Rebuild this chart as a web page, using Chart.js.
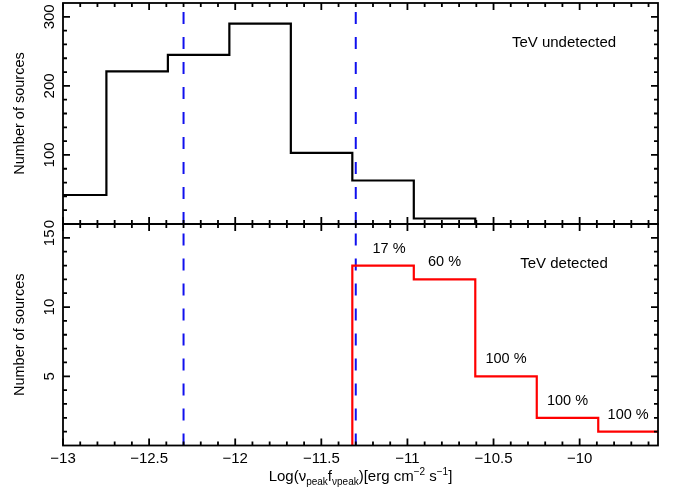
<!DOCTYPE html>
<html>
<head>
<meta charset="utf-8">
<script src="https://cdn.jsdelivr.net/npm/chart.js@4.4.0/dist/chart.umd.min.js"></script>
<style>
  html, body { margin: 0; padding: 0; background: #fff; }
  #wrap { position: relative; width: 680px; height: 490px; }
  canvas { position: absolute; left: 0; top: 0; }
</style>
</head>
<body>
<div id="wrap">
  <canvas id="topChart" width="680" height="490"></canvas>
  <canvas id="botChart" width="680" height="490"></canvas>
</div>
<script>
// Bin edges of Log(nu_peak f_nupeak), shared by both panels
const binEdges = [-13, -12.748, -12.391, -12.034, -11.677, -11.32, -10.963, -10.606, -10.249, -9.892, -9.545];
const undetectedCounts = [42, 221, 245, 290, 103, 63, 8, 0, 0, 0];
const detectedCounts = [0, 0, 0, 0, 0, 13, 12, 5, 2, 1];
const detectedPct = ['', '', '', '', '', '17 %', '60 %', '100 %', '100 %', '100 %'];
const dividers = [-12.3, -11.3];
const xTicks = [-13, -12.5, -12, -11.5, -11, -10.5, -10];
const topYTicks = [0, 100, 200, 300];
const botYTicks = [5, 10, 15];

const FONT = '"Liberation Sans", Arial, Helvetica, sans-serif';
const X_MIN = -13, X_MAX = -9.545;

// histogram outline as step points (left edge of each bin + closing point)
function stepPoints(counts, skipEmpty) {
  const pts = [];
  let started = !skipEmpty;
  counts.forEach((c, i) => {
    if (!started) {
      if (c === 0) return;
      started = true;
      pts.push({ x: binEdges[i], y: 0 });
    }
    pts.push({ x: binEdges[i], y: c });
  });
  pts.push({ x: binEdges[binEdges.length - 1], y: counts[counts.length - 1] });
  return pts;
}

function dividerSets(yMax) {
  return dividers.map(d => ({
    data: [{ x: d, y: 0 }, { x: d, y: yMax }],
    borderColor: '#1010ee',
    borderWidth: 2,
    borderDash: [12, 13],
    pointRadius: 0
  }));
}

const minus = v => String(v).replace('-', '\u2212');

// frame, inward ticks and labels
const framePlugin = {
  id: 'frame',
  afterDraw(chart, args, o) {
    const { ctx, chartArea: a, scales } = chart;
    const xs = scales.x, ys = scales.y;
    ctx.save();
    ctx.strokeStyle = '#000';
    ctx.fillStyle = '#000';
    ctx.lineWidth = 1.8;
    ctx.strokeRect(a.left, a.top, a.right - a.left, a.bottom - a.top);

    ctx.beginPath();
    for (let k = -130; k <= -96; k++) {
      const px = xs.getPixelForValue(k / 10);
      const len = k % 5 === 0 ? 7 : 4;
      ctx.moveTo(px, a.bottom); ctx.lineTo(px, a.bottom - len);
      ctx.moveTo(px, a.top); ctx.lineTo(px, a.top + len);
    }
    for (let v = o.yMinor; v < ys.max; v += o.yMinor) {
      const py = ys.getPixelForValue(v);
      const len = v % o.yMajor === 0 ? 7 : 4;
      ctx.moveTo(a.left, py); ctx.lineTo(a.left + len, py);
      ctx.moveTo(a.right, py); ctx.lineTo(a.right - len, py);
    }
    ctx.stroke();

    // y tick labels, rotated
    ctx.font = '15px ' + FONT;
    ctx.textAlign = 'center';
    ctx.textBaseline = 'middle';
    o.yLabels.forEach(v => {
      ctx.save();
      ctx.translate(50, ys.getPixelForValue(v));
      ctx.rotate(-Math.PI / 2);
      ctx.fillText(String(v), 0, 0);
      ctx.restore();
    });

    // y title
    ctx.font = '14.5px ' + FONT;
    ctx.save();
    ctx.translate(20, (a.top + a.bottom) / 2);
    ctx.rotate(-Math.PI / 2);
    ctx.fillText('Number of sources', 0, 0);
    ctx.restore();

    // panel label
    ctx.font = '15px ' + FONT;
    ctx.fillText(o.panelText, a.right - 94, a.top + 40);

    if (o.pct) {
      ctx.font = '14.5px ' + FONT;
      o.pct.forEach((t, i) => {
        if (!t) return;
        const cx = xs.getPixelForValue((binEdges[i] + binEdges[i + 1]) / 2);
        const cy = ys.getPixelForValue(detectedCounts[i]) - 17;
        ctx.fillText(t, cx + (i === 5 ? 6 : 0), cy);
      });
    }

    if (o.xLabels) {
      ctx.font = '15px ' + FONT;
      xTicks.forEach(v => ctx.fillText(minus(v), xs.getPixelForValue(v), a.bottom + 13));

      // x title with sub/superscripts
      const parts = [
        ['Log(\u03bd', 0], ['peak', 1], ['f', 0], ['\u03bdpeak', 1],
        [')[erg cm', 0], ['\u22122', 2], [' s', 0], ['\u22121', 2], [']', 0]
      ];
      const fontFor = s => (s === 0 ? '15px ' : '10px ') + FONT;
      let total = 0;
      parts.forEach(([t, s]) => { ctx.font = fontFor(s); total += ctx.measureText(t).width; });
      let x = (a.left + a.right) / 2 - total / 2;
      const base = 481;
      ctx.textAlign = 'left';
      ctx.textBaseline = 'alphabetic';
      parts.forEach(([t, s]) => {
        ctx.font = fontFor(s);
        const dy = s === 1 ? 4 : s === 2 ? -6 : 0;
        ctx.fillText(t, x, base + dy);
        x += ctx.measureText(t).width;
      });
    }
    ctx.restore();
  }
};

function makeChart(id, datasets, yMax, padding, frameOpts) {
  return new Chart(document.getElementById(id), {
    type: 'line',
    data: { datasets },
    options: {
      responsive: false,
      animation: false,
      devicePixelRatio: 1,
      layout: { padding },
      plugins: { legend: { display: false }, tooltip: { enabled: false }, frame: frameOpts },
      scales: {
        x: { type: 'linear', min: X_MIN, max: X_MAX, display: false },
        y: { type: 'linear', min: 0, max: yMax, display: false }
      }
    },
    plugins: [framePlugin]
  });
}

// TeV undetected
makeChart('topChart', [
  {
    data: stepPoints(undetectedCounts, false),
    stepped: true,
    borderColor: '#000',
    borderWidth: 2.2,
    pointRadius: 0
  },
  ...dividerSets(320)
], 320, { left: 63, right: 22, top: 3, bottom: 266 },
  { yMinor: 20, yMajor: 100, yLabels: topYTicks, panelText: 'TeV undetected', xLabels: false });

// TeV detected
makeChart('botChart', [
  {
    data: stepPoints(detectedCounts, true),
    stepped: true,
    borderColor: '#ff0000',
    borderWidth: 2.2,
    pointRadius: 0
  },
  ...dividerSets(16)
], 16, { left: 63, right: 22, top: 224, bottom: 44.5 },
  { yMinor: 1, yMajor: 5, yLabels: botYTicks, panelText: 'TeV detected', xLabels: true, pct: detectedPct });
</script>
</body>
</html>
